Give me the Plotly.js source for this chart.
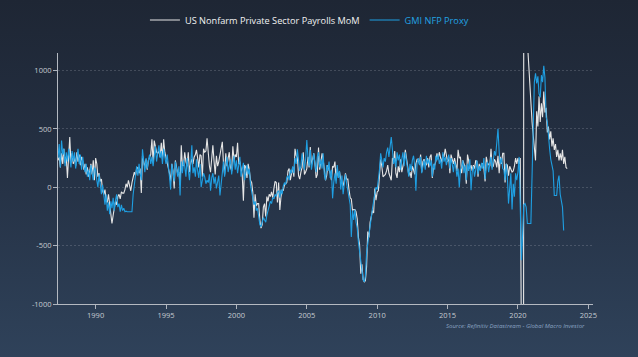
<!DOCTYPE html>
<html>
<head>
<meta charset="utf-8">
<script src="https://cdn.plot.ly/plotly-3.0.1.min.js"></script>
<style>
html,body{margin:0;padding:0;width:638px;height:357px;overflow:hidden;
background:linear-gradient(180deg,#1e2634 0%,#243043 45%,#2f425a 100%);}
#chart{width:638px;height:357px;}
</style>
</head>
<body>
<div id="chart"></div>
<script>
// Monthly series, first value = May 1987
const startYear = 1987, startMonth = 5;

const privatePayrolls = [
// 1987 (May-Dec)
230, 260, 170, 290, 200, 330, 210, 260,
// 1988
80, 250, 430, 210, 290, 200, 260, 180, 300, 220, 280, 190,
// 1989
260, 220, 150, 200, 110, 170, 90, 140, 200, 110, 230, 60,
// 1990
250, 200, 90, 120, 50, 70, -30, -60, -20, -120, -130, -60,
// 1991
-140, -200, -310, -240, -190, -120, -150, -80, -60, -100, -40, -50,
// 1992
-50, -20, 30, 0, 60, 20, -30, 40, 90, 130, 100, 160,
// 1993
170, 120, 160, -50, 270, 220, 170, 240, 150, 230, 260, 280,
// 1994
410, 210, 400, 330, 300, 290, 310, 260, 380, 240, 410, 300,
// 1995
260, 220, 170, 120, 50, 200, 140, -10, 230, 150, 110, 130,
// 1996
20, 360, 180, 190, 300, 220, 180, 300, 130, 200, 240, 200,
// 1997
260, 280, 320, 250, 170, 280, 270, 90, 330, 300, 310, 420,
// 1998
290, 180, 130, 290, 360, 220, 110, 270, 180, 220, 280, 330,
// 1999
390, 200, 110, 290, 180, 250, 300, 170, 140, 350, 230, 280,
// 2000
260, 380, 200, 220, 150, 100, -115, 190, 170, 80, 200, 150,
// 2001
60, 40, -40, -260, -60, -160, -140, -140, -280, -350, -320, -170,
// 2002
-140, -250, -80, -120, -60, -80, -40, -90, -10, 50, 40, -130,
// 2003
40, -195, -90, -20, -30, 20, 30, 40, 140, 160, 60, 120,
// 2004
170, 90, 330, 270, 260, 100, 70, 130, 170, 300, 110, 130,
// 2005
160, 260, 170, 345, 190, 240, 290, 200, 80, 110, 340, 150,
// 2006
240, 290, 240, 150, 60, 100, 190, 150, 120, 60, 180, 170,
// 2007
220, 60, 160, 80, 130, 70, 30, 10, 60, 120, 70, 70,
// 2008
-20, -90, -100, -200, -190, -190, -210, -270, -430, -490, -740, -660,
// 2009
-790, -810, -800, -680, -380, -430, -300, -250, -200, -220, -10, -110,
// 2010
-40, -30, 130, 240, 180, 90, 100, 110, 140, 190, 120, 80,
// 2011
60, 250, 230, 310, 120, 80, 180, 130, 240, 130, 170, 230,
// 2012
320, 220, 180, 100, 130, 80, 180, 150, 110, 200, 240, 240,
// 2013
200, 280, 130, 220, 240, 200, 190, 250, 170, 260, 280, 80,
// 2014
170, 190, 220, 290, 240, 300, 240, 210, 280, 260, 330, 280,
// 2015
220, 260, 120, 280, 250, 200, 250, 170, 140, 320, 250, 260,
// 2016
120, 230, 200, 170, 30, 280, 230, 160, 190, 140, 190, 160,
// 2017
230, 220, 90, 200, 150, 200, 200, 160, 50, 260, 210, 190,
// 2018
180, 330, 170, 180, 240, 220, 170, 270, 120, 260, 200, 290,
// 2019
290, 40, 200, 190, 100, 180, 160, 130, 140, 180, 250, 200,
// 2020
250, 200, 250, -1400, -19800, 3200, 4500, 1400, 1250, 1050, 900, 720,
// 2021
560, 440, 330, 230, 650, 520, 780, 560, 720, 600, 820, 640,
// 2022
680, 470, 520, 410, 480, 350, 420, 320, 370, 260, 320, 230,
// 2023 (Jan-Jul)
290, 230, 320, 200, 260, 170, 160
];

const gmiProxy = [
// 1987 (May-Dec)
250, 370, 170, 400, 280, 330, 180, 300,
// 1988
220, 330, 250, 170, 310, 220, 300, 160, 250, 330, 200, 280,
// 1989
150, 260, 180, 130, 200, 90, 150, 60, 190, 130, 60, 170,
// 1990
150, 60, 0, 110, 30, -60, 20, -90, -150, -60, -200, -130,
// 1991
-230, -120, -180, -90, -200, -110, -60, -170, -140, -210, -150, -200,
// 1992
-180, -210, -205, -210, -210, -210, -210, -210, -60, 30, 80, 180,
// 1993
100, 200, 120, 60, 325, 220, 130, 250, 160, 230, 280, 200,
// 1994
260, 180, 300, 350, 220, 290, 360, 250, 310, 200, 330, 260,
// 1995
200, 280, 150, 90, -20, 200, 130, 50, 220, 160, 90, 180,
// 1996
-70, 220, 120, 230, 180, 90, 250, 150, 60, 190, 360, 120,
// 1997
170, 90, 240, 140, 80, 200, 0, 60, 120, 90, 30, 60,
// 1998
40, 110, -30, 80, 120, 30, 90, -10, 60, 100, -70, 20,
// 1999
150, 220, 90, 200, 260, 130, 180, 240, 110, 200, 270, 150,
// 2000
230, 120, 200, 260, 90, 160, 210, 60, 140, 190, 110, 160,
// 2001
20, -40, -80, -150, -120, -200, -180, -250, -320, -340, -300, -260,
// 2002
-280, -300, -240, -200, -160, -120, -140, -90, -100, -60, -80, -40,
// 2003
-30, -90, -20, -60, 10, 40, 20, 80, 100, 60, 150, 120,
// 2004
180, 120, 250, 200, 325, 220, 140, 180, 290, 210, 150, 240,
// 2005
405, 250, 180, 320, 150, 220, 290, 200, 130, 260, 300, 170,
// 2006
240, 160, 290, 110, 60, 190, 140, 220, 80, 150, -95, 40,
// 2007
120, 30, 190, 80, 140, -20, 100, -60, 50, 110, 30, -40,
// 2008
-80, -150, -425, -200, -280, -190, -300, -350, -470, -560, -620, -700,
// 2009
-790, -810, -760, -560, -480, -380, -300, -250, -180, -120, -60, 0,
// 2010
-20, 60, 150, 290, 230, 170, 250, 220, 300, 340, 260, 380,
// 2011
430, 320, 200, 250, 170, 300, 230, 280, 150, 240, 300, 180,
// 2012
300, 220, 160, 90, 200, 140, 230, 270, 180, -30, 210, 250,
// 2013
190, 260, 120, 200, 230, 150, 270, 200, 240, 180, 230, 90,
// 2014
200, 150, 270, 230, 280, 200, 240, 160, 300, 220, 260, 190,
// 2015
230, 280, 160, 250, 200, 130, 220, 180, 90, 160, 0, 150,
// 2016
170, 230, 120, 190, 60, 200, 140, 240, -25, 130, 180, 90,
// 2017
150, 230, 110, 180, 140, 210, 160, 250, 70, 180, 220, 130,
// 2018
200, 260, 150, 220, 310, 270, 380, 500, 300, 200, 250, 160,
// 2019
150, 60, 200, 90, -140, 40, 120, -190, 30, -80, 120, 60,
// 2020
130, 260, -300, -625, -400, -150, -140, -170, -310, -310, -310, -310,
// 2021
100, 650, 900, 975, 890, 950, 800, 770, 960, 900, 1040, 940,
// 2022
600, 560, 430, 330, 240, 180, 140, -70, -70, -70, 50, 100,
// 2023 (Jan-Apr)
-60, -140, -170, -370
];

const yTicks = [-1000, -500, 0, 500, 1000];
const xTickYears = [1990, 1995, 2000, 2005, 2010, 2015, 2020, 2025];
const seriesNames = ['US Nonfarm Private Sector Payrolls MoM', 'GMI NFP Proxy'];
const sourceText = 'Source: Refinitiv Datastream - Global Macro Investor';

function monthDates(n) {
  const out = [];
  for (let i = 0; i < n; i++) {
    const m0 = startMonth - 1 + i;
    const y = startYear + Math.floor(m0 / 12);
    const m = (m0 % 12) + 1;
    out.push(y + '-' + String(m).padStart(2, '0') + '-01');
  }
  return out;
}

const traces = [
  {
    x: monthDates(privatePayrolls.length), y: privatePayrolls,
    type: 'scatter', mode: 'lines',
    name: '<span style="color:#f2f2f2">' + seriesNames[0] + '</span>',
    line: {color: '#e6e6e6', width: 1.1}
  },
  {
    x: monthDates(gmiProxy.length), y: gmiProxy,
    type: 'scatter', mode: 'lines',
    name: '<span style="color:#22a3e3">' + seriesNames[1] + '</span>',
    line: {color: '#1f9fe2', width: 1.1}
  }
];

const layout = {
  width: 638, height: 357,
  paper_bgcolor: 'rgba(0,0,0,0)', plot_bgcolor: 'rgba(0,0,0,0)',
  margin: {l: 58, r: 45, t: 53, b: 53},
  font: {family: 'Open Sans, sans-serif', color: '#d0d4da'},
  showlegend: true,
  legend: {
    orientation: 'h', xref: 'container', yref: 'container',
    x: 0.485, xanchor: 'center', y: 0.944, yanchor: 'middle',
    font: {size: 9.2, family: 'Open Sans, sans-serif', color: '#f2f2f2'},
    bgcolor: 'rgba(0,0,0,0)', itemclick: false
  },
  xaxis: {
    type: 'date',
    range: ['1987-05-01', '2025-05-01'],
    tickvals: xTickYears.map(y => y + '-01-01'),
    ticktext: xTickYears.map(String),
    ticks: 'outside', ticklen: 4, tickcolor: '#aeb4bd', tickwidth: 1,
    showline: true, linecolor: '#b4b9c1', linewidth: 1,
    showgrid: false, zeroline: false,
    tickfont: {size: 7.5, color: '#c6cad1'}
  },
  yaxis: {
    range: [-1000, 1150],
    tickvals: yTicks, ticktext: yTicks.map(String),
    ticks: 'outside', ticklen: 4, tickcolor: '#aeb4bd', tickwidth: 1,
    showline: true, linecolor: '#b4b9c1', linewidth: 1,
    showgrid: true, gridcolor: 'rgba(190,195,205,0.22)', griddash: '2px,2px', gridwidth: 1,
    zeroline: false,
    tickfont: {size: 7.5, color: '#c6cad1'}
  },
  annotations: [{
    text: '<i>' + sourceText + '</i>',
    xref: 'paper', yref: 'paper', x: 0.988, y: -0.088,
    xanchor: 'right', yanchor: 'middle', showarrow: false,
    font: {size: 6, color: '#8aa3c2', family: 'Open Sans, sans-serif'}
  }]
};

Plotly.newPlot('chart', traces, layout, {displayModeBar: false, staticPlot: true});
</script>
</body>
</html>
